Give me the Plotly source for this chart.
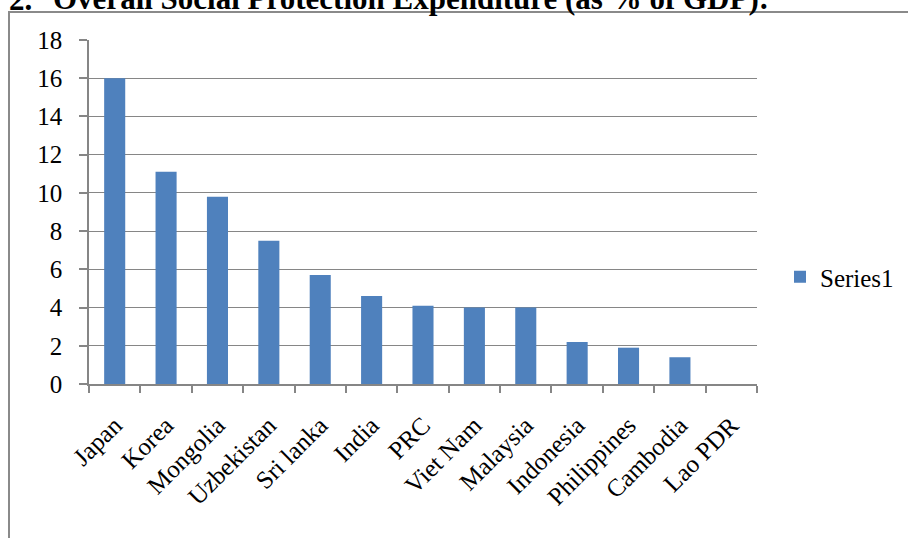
import plotly.graph_objects as go

# Social protection expenditure by economy (% of GDP)
countries = ["Japan", "Korea", "Mongolia", "Uzbekistan", "Sri lanka", "India", "PRC",
             "Viet Nam", "Malaysia", "Indonesia", "Philippines", "Cambodia", "Lao PDR"]
spending = [16.0, 11.1, 9.8, 7.5, 5.7, 4.6, 4.1, 4.0, 4.0, 2.2, 1.9, 1.4, 0.0]
series_name = "Series1"
title_number = "2."
title_text = "Overall Social Protection Expenditure (as % of GDP):"

W, H = 908, 538
M_L, M_R, M_T, M_B = 89, 151, 40, 154
PW, PH = W - M_L - M_R, H - M_T - M_B


def px_x(p):
    return (p - M_L) / PW


def px_y(p):
    return (H - M_B - p) / PH


FONT = "Liberation Serif, Times New Roman, serif"
GRID = "#868686"
BAR = "#4F81BD"
FS = 25

fig = go.Figure(
    go.Bar(x=countries, y=spending, name=series_name, marker_color=BAR,
           marker_line_width=0, showlegend=True)
)

fig.update_layout(
    width=W, height=H,
    margin=dict(l=M_L, r=M_R, t=M_T, b=M_B, autoexpand=False),
    paper_bgcolor="white", plot_bgcolor="white",
    font=dict(family=FONT, size=FS, color="black"),
    bargap=0.59,
    showlegend=True,
    legend=dict(x=px_x(780), y=px_y(277), xanchor="left", yanchor="middle",
                font=dict(family=FONT, size=FS, color="black"),
                bgcolor="rgba(0,0,0,0)"),
)

fig.update_yaxes(range=[0, 18], dtick=2, showgrid=True, gridcolor=GRID, gridwidth=1,
                 showline=True, linecolor=GRID, linewidth=1.5,
                 ticks="outside", ticklen=8, tickcolor=GRID, tickwidth=1.5,
                 ticklabelstandoff=12, zeroline=False, fixedrange=True)

fig.update_xaxes(showline=True, linecolor=GRID, linewidth=1.5,
                 ticks="outside", ticklen=7, tickcolor=GRID, tickwidth=1.5,
                 tickson="boundaries", tickangle=-45, ticklabelstandoff=15,
                 showgrid=False, fixedrange=True)

# Outer frame of the chart area (left and top edges)
fig.add_shape(type="path", xref="paper", yref="paper",
              path=f"M {px_x(9)} {px_y(560)} L {px_x(9)} {px_y(12)} L {px_x(930)} {px_y(12)}",
              line=dict(color="#8a8a8a", width=2))

# Section heading above the chart
fig.add_annotation(text=f"<b>{title_number}</b>", xref="paper", yref="paper",
                   x=px_x(7), y=px_y(18.5), xanchor="left", yanchor="bottom",
                   showarrow=False, font=dict(family=FONT, size=31, color="black"))
fig.add_annotation(text=f"<b>{title_text}</b>", xref="paper", yref="paper",
                   x=px_x(51), y=px_y(18.5), xanchor="left", yanchor="bottom",
                   showarrow=False, font=dict(family=FONT, size=31, color="black"))

fig.write_html("out.html")
